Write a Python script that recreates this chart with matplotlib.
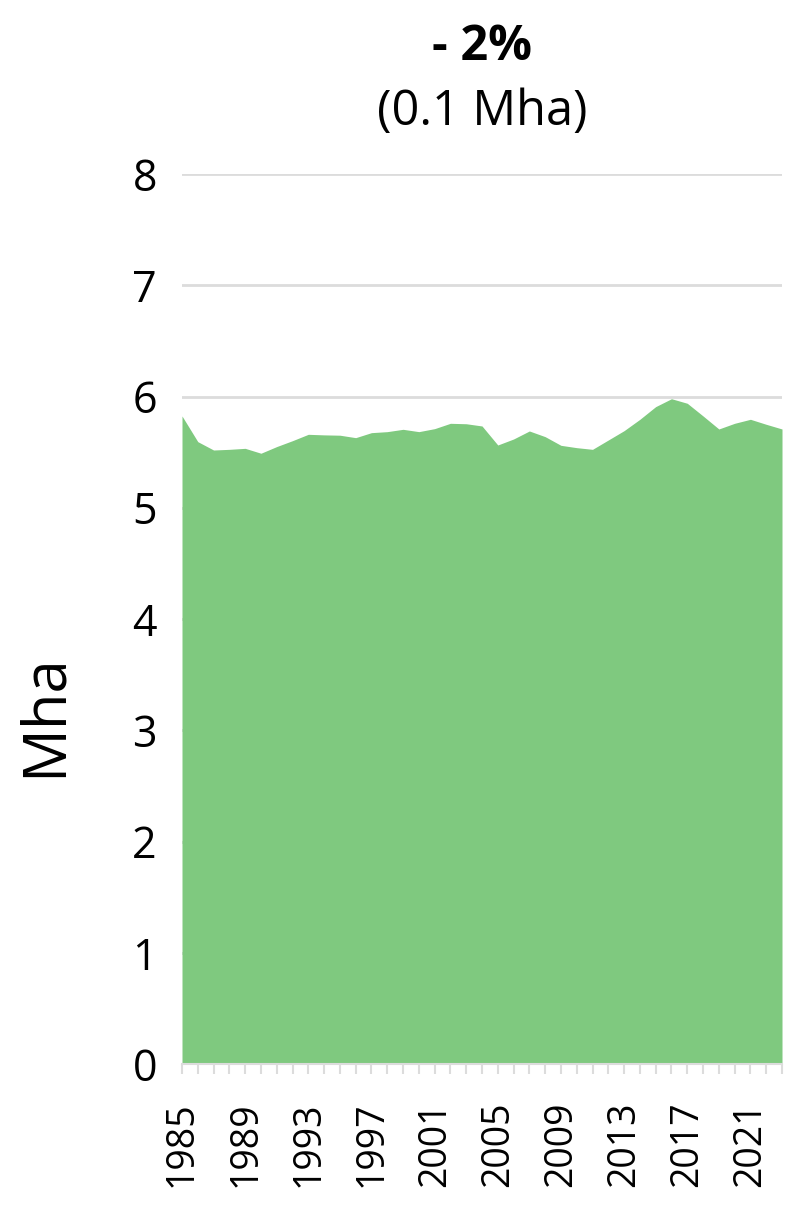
import matplotlib
matplotlib.use("Agg")
import matplotlib.pyplot as plt
import numpy as np

plt.rcParams['font.family'] = ['Open Sans', 'DejaVu Sans']

years = list(range(1985, 2024))
area_mha = [5.825, 5.594, 5.519, 5.525, 5.534, 5.490, 5.550, 5.603, 5.660, 5.655,
            5.652, 5.630, 5.675, 5.684, 5.705, 5.684, 5.711, 5.759, 5.755, 5.735,
            5.564, 5.618, 5.690, 5.639, 5.561, 5.540, 5.525, 5.609, 5.693, 5.795,
            5.909, 5.980, 5.939, 5.825, 5.708, 5.759, 5.795, 5.750, 5.708]
yticks = [0, 1, 2, 3, 4, 5, 6, 7, 8]
xlabel_years = [1985, 1989, 1993, 1997, 2001, 2005, 2009, 2013, 2017, 2021]
title_main = "- 2%"
title_sub = "(0.1 Mha)"
ylabel = "Mha"

W, H = 795, 1211
fig = plt.figure(figsize=(W / 100, H / 100), dpi=100)
ax = fig.add_axes([182 / W, 1 - 1064 / H, (782 - 182) / W, (1064 - 174) / H])

ax.fill_between(years, area_mha, 0, color='#7fc97f', linewidth=0, zorder=2)
ax.set_xlim(1985, 2023)
ax.set_ylim(0, 8)

ax.set_yticks(yticks)
ax.set_yticklabels([str(v) for v in yticks], fontsize=31)
ax.yaxis.grid(True, color='#dcdcdc', linewidth=2, zorder=0)
ax.tick_params(axis='y', length=0, pad=18)

ax.set_xticks(years, minor=True)
ax.set_xticks(xlabel_years)
ax.set_xticklabels([str(y) for y in xlabel_years], rotation=90, fontsize=27)
ax.tick_params(axis='x', which='both', length=7, width=1.5, color='#dcdcdc', pad=20)

for s in ['top', 'right', 'left']:
    ax.spines[s].set_visible(False)
ax.spines['bottom'].set_color('#dcdcdc')
ax.spines['bottom'].set_linewidth(1.5)
ax.set_axisbelow(True)

fig.text(482 / W, 1 - 48 / H, title_main, ha='center', va='center', fontsize=35, fontweight='bold')
fig.text(482 / W, 1 - 112 / H, title_sub, ha='center', va='center', fontsize=35)
fig.text(45 / W, 1 - 715 / H, ylabel, ha='center', va='center', fontsize=43, rotation=90)

fig.savefig("out.png", dpi=100)
